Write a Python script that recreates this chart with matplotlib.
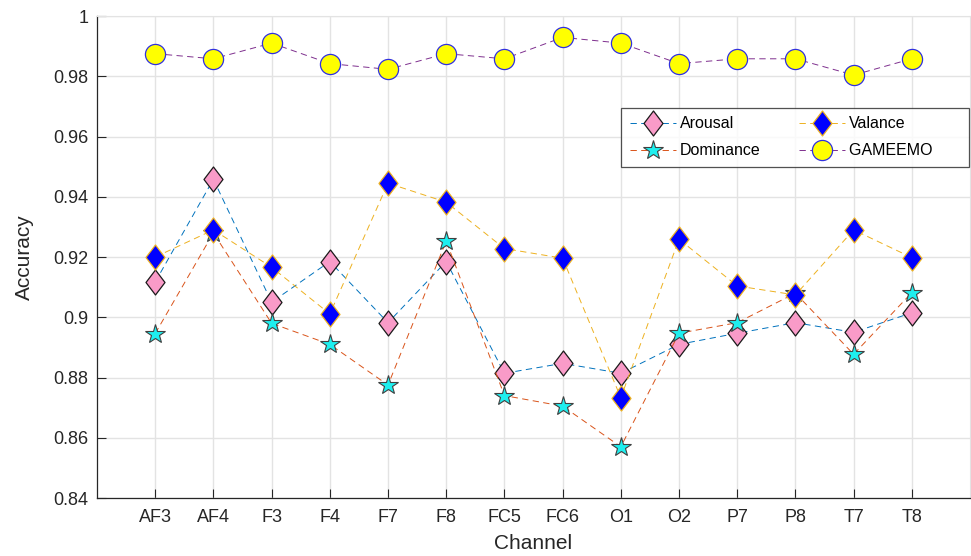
import numpy as np
import matplotlib.pyplot as plt
from matplotlib.path import Path
from matplotlib.ticker import FuncFormatter

plt.rcParams['font.family'] = ['Liberation Sans', 'DejaVu Sans']

channels = ['AF3', 'AF4', 'F3', 'F4', 'F7', 'F8', 'FC5', 'FC6',
            'O1', 'O2', 'P7', 'P8', 'T7', 'T8']
arousal = [0.9117, 0.9458, 0.905, 0.9185, 0.8982, 0.9185, 0.8814, 0.8847,
           0.8814, 0.891, 0.8947, 0.8982, 0.895, 0.9015]
dominance = [0.8946, 0.928, 0.898, 0.891, 0.8775, 0.9253, 0.874, 0.8705,
             0.857, 0.8947, 0.8982, 0.908, 0.8877, 0.9082]
valance = [0.92, 0.929, 0.9166, 0.9011, 0.9445, 0.9382, 0.9228, 0.9196,
           0.8733, 0.9259, 0.9104, 0.9074, 0.929, 0.9198]
gameemo = [0.9875, 0.9858, 0.991, 0.9842, 0.9823, 0.9875, 0.9858, 0.9929,
           0.991, 0.9842, 0.9858, 0.9858, 0.9804, 0.9858]

x = np.arange(1, len(channels) + 1)

# tall diamond like the original
diamond = Path([(0, 1), (0.76, 0), (0, -1), (-0.76, 0), (0, 1)],
               [Path.MOVETO, Path.LINETO, Path.LINETO, Path.LINETO, Path.CLOSEPOLY])

fig = plt.figure(figsize=(9.71, 5.56), dpi=100)
ax = fig.add_axes([0.0999, 0.1043, 0.8991, 0.8669])

lw = 0.7
dash = (6.5, 4.5)
ax.plot(x, arousal, color='#0072BD', lw=lw, dashes=dash, marker=diamond, ms=18,
        mfc='#F99BC8', mec='#1a1a1a', mew=0.9, label='Arousal')
ax.plot(x, dominance, color='#D95319', lw=lw, dashes=dash, marker='*', ms=15,
        mfc='#1EEFEF', mec='#404040', mew=0.8, label='Dominance')
ax.plot(x, valance, color='#EDB120', lw=lw, dashes=dash, marker=diamond, ms=18,
        mfc='#0000FF', mec='#EDB120', mew=0.9, label='Valance')
ax.plot(x, gameemo, color='#7E2F8E', lw=lw, dashes=dash, marker='o', ms=14.5,
        mfc='#FFFF00', mec='#3030E0', mew=0.9, label='GAMEEMO      ')

ax.set_xlim(0, 15)
ax.set_ylim(0.84, 1.0)
ax.set_xticks(x)
ax.set_xticklabels(channels)
ax.set_yticks(np.arange(0.84, 1.0001, 0.02))
ax.yaxis.set_major_formatter(FuncFormatter(lambda v, p: '%g' % round(v, 2)))

ax.grid(True, color='#e3e3e3', lw=1)
ax.set_axisbelow(True)
ax.tick_params(direction='in', length=6.5, width=0.8, labelsize=13,
               colors='#262626')
ax.tick_params(axis='x', pad=8)
ax.tick_params(axis='y', pad=6)
for s in ['top', 'right']:
    ax.spines[s].set_color('#e3e3e3')
for s in ['left', 'bottom']:
    ax.spines[s].set_color('#262626')
    ax.spines[s].set_linewidth(0.9)

ax.set_xlabel('Channel', fontsize=15, color='#262626', labelpad=6)
ax.set_ylabel('Accuracy', fontsize=15, color='#262626', labelpad=14)

leg = ax.legend(ncol=2, loc='upper left', bbox_to_anchor=(0.6, 0.81),
                fontsize=11.5, frameon=True, fancybox=False, edgecolor='#262626',
                handlelength=2.9, handletextpad=0.25, columnspacing=2.4,
                borderpad=0.55, labelspacing=0.75, borderaxespad=0)
leg.get_frame().set_linewidth(0.9)

fig.savefig('out.png', dpi=100)
